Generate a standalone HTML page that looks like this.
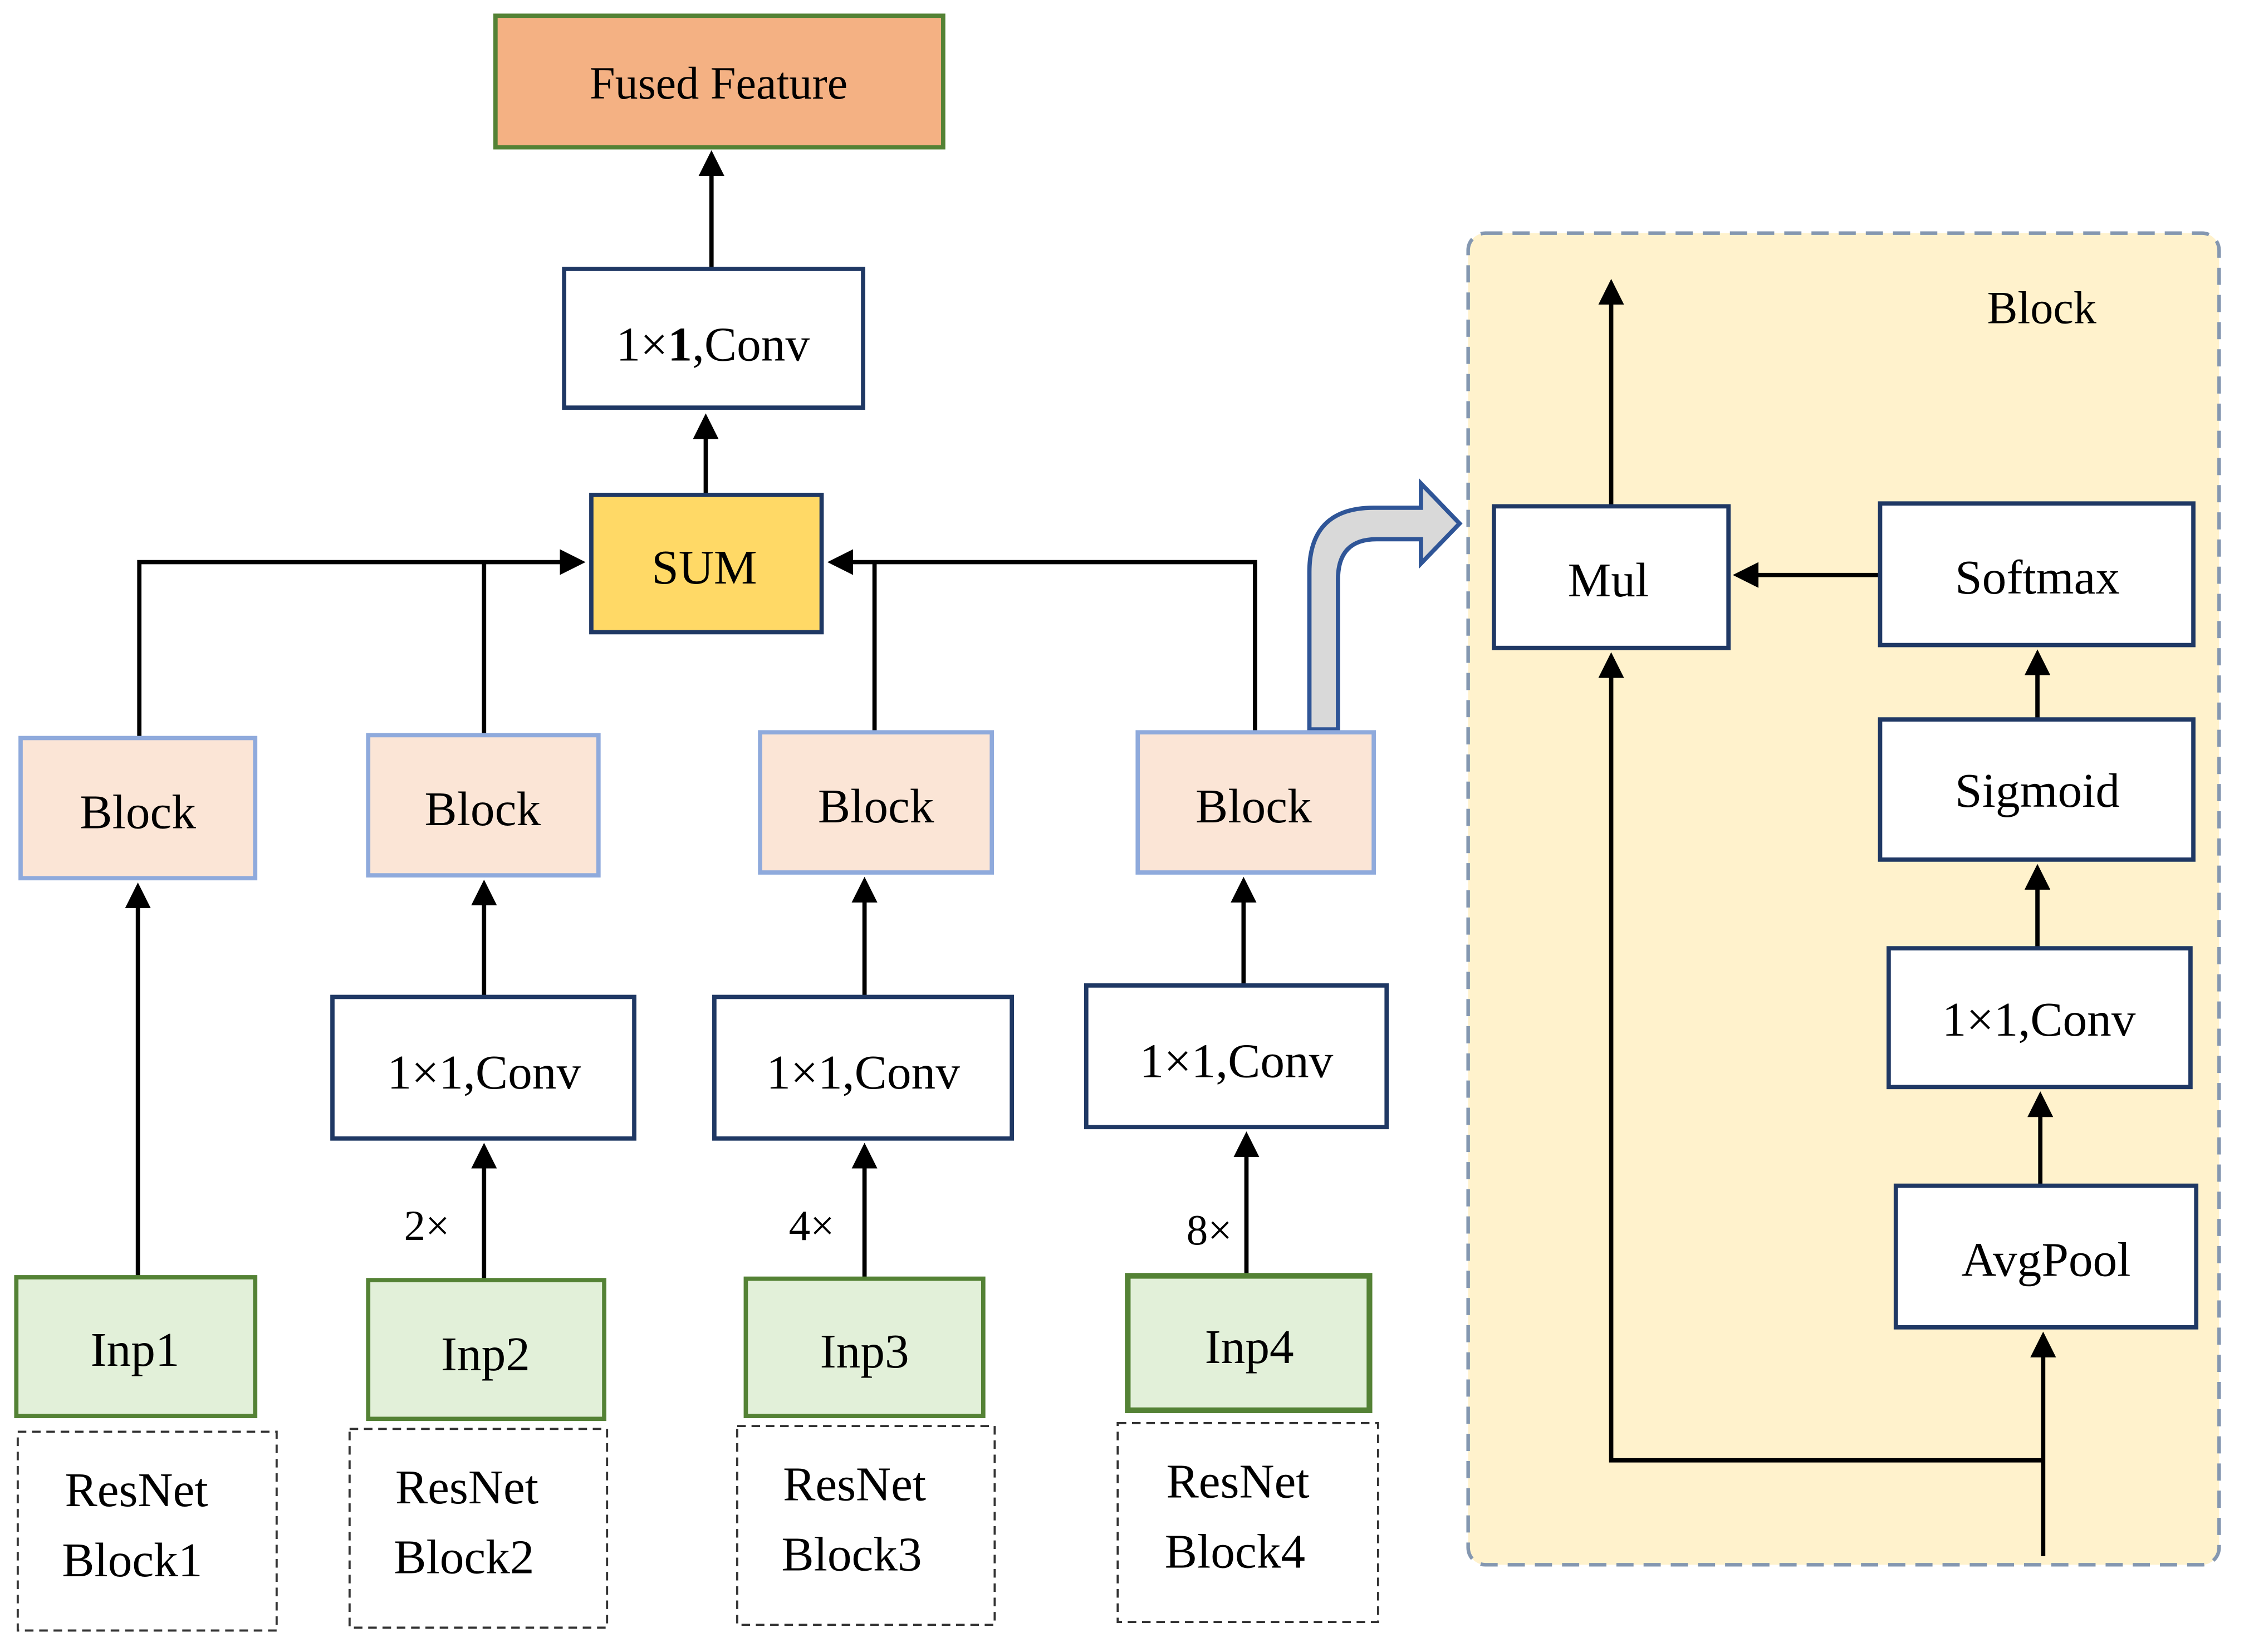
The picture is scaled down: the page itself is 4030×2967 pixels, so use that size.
<!DOCTYPE html>
<html><head><meta charset="utf-8"><style>html,body{margin:0;padding:0;background:#fff}svg{display:block}</style></head>
<body>
<svg width="4030" height="2967" viewBox="0 0 1568 1155" xmlns="http://www.w3.org/2000/svg" font-family="Liberation Serif, serif">
<defs>
<marker id="a" markerWidth="6" markerHeight="6" refX="5" refY="3" orient="auto" markerUnits="strokeWidth"><path d="M0,0 L6,3 L0,6 z" fill="#000"/></marker>
</defs>
<rect width="1568" height="1155" fill="#fff"/>
<!-- block panel -->
<rect x="1026" y="163" width="525" height="931" rx="12" fill="#FFF2CC" stroke="#8497B0" stroke-width="2.5" stroke-dasharray="12,7"/>
<text x="1427" y="226" font-size="32" text-anchor="middle">Block</text>

<g stroke="#000" stroke-width="3" fill="none">
<line x1="497" y1="187" x2="497" y2="108" marker-end="url(#a)"/>
<line x1="493" y1="346" x2="493" y2="292" marker-end="url(#a)"/>
<polyline points="97,515 97,393 406,393" marker-end="url(#a)"/>
<line x1="338" y1="513" x2="338" y2="393"/>
<polyline points="877,511 877,393 581,393" marker-end="url(#a)"/>
<line x1="611" y1="511" x2="611" y2="393"/>
<line x1="96" y1="893" x2="96" y2="620" marker-end="url(#a)"/>
<line x1="338" y1="697" x2="338" y2="618" marker-end="url(#a)"/>
<line x1="338" y1="895" x2="338" y2="802" marker-end="url(#a)"/>
<line x1="604" y1="697" x2="604" y2="616" marker-end="url(#a)"/>
<line x1="604" y1="894" x2="604" y2="802" marker-end="url(#a)"/>
<line x1="869" y1="689" x2="869" y2="616" marker-end="url(#a)"/>
<line x1="871" y1="892" x2="871" y2="794" marker-end="url(#a)"/>
<line x1="1126" y1="354" x2="1126" y2="198" marker-end="url(#a)"/>
<line x1="1314" y1="402" x2="1214" y2="402" marker-end="url(#a)"/>
<line x1="1424" y1="503" x2="1424" y2="457" marker-end="url(#a)"/>
<line x1="1424" y1="663" x2="1424" y2="607" marker-end="url(#a)"/>
<line x1="1426" y1="829" x2="1426" y2="766" marker-end="url(#a)"/>
<line x1="1428" y1="1088" x2="1428" y2="934" marker-end="url(#a)"/>
<polyline points="1428,1021 1126,1021 1126,459" marker-end="url(#a)"/>
</g>

<!-- curved arrow -->
<path d="M915,510 L915,400 Q915,355 960,355 L993,355 L993,338 L1020,366 L993,394 L993,377 L962,377 Q935,377 935,405 L935,510 Z" fill="#D9D9D9" stroke="#2F5597" stroke-width="3"/>

<g font-size="34" text-anchor="middle">
<rect x="346" y="11" width="313" height="92" fill="#F4B183" stroke="#548235" stroke-width="3"/>
<text x="502" y="69" font-size="32">Fused Feature</text>
<rect x="394" y="188" width="209" height="97" fill="#fff" stroke="#1F3864" stroke-width="3"/>
<text x="498" y="252">1×<tspan font-weight="bold">1</tspan>,Conv</text>
<rect x="413" y="346" width="161" height="96" fill="#FFD966" stroke="#1F3864" stroke-width="3"/>
<text x="492" y="408">SUM</text>

<g fill="#FBE5D6" stroke="#8FAADC" stroke-width="3">
<rect x="14" y="516" width="164" height="98"/>
<rect x="257" y="514" width="161" height="98"/>
<rect x="531" y="512" width="162" height="98"/>
<rect x="795" y="512" width="165" height="98"/>
</g>
<text x="96" y="579">Block</text>
<text x="337" y="577">Block</text>
<text x="612" y="575">Block</text>
<text x="876" y="575">Block</text>

<g fill="#fff" stroke="#1F3864" stroke-width="3">
<rect x="232" y="697" width="211" height="99"/>
<rect x="499" y="697" width="208" height="99"/>
<rect x="759" y="689" width="210" height="99"/>
<rect x="1044" y="354" width="164" height="99"/>
<rect x="1314" y="352" width="219" height="99"/>
<rect x="1314" y="503" width="219" height="98"/>
<rect x="1320" y="663" width="211" height="97"/>
<rect x="1325" y="829" width="210" height="99"/>
</g>
<text x="338" y="761">1×1,Conv</text>
<text x="603" y="761">1×1,Conv</text>
<text x="864" y="753">1×1,Conv</text>
<text x="1124" y="417">Mul</text>
<text x="1424" y="415">Softmax</text>
<text x="1424" y="564">Sigmoid</text>
<text x="1425" y="724">1×1,Conv</text>
<text x="1430" y="892">AvgPool</text>

<g fill="#E2F0D9" stroke="#548235" stroke-width="3">
<rect x="11" y="893" width="167" height="97"/>
<rect x="257" y="895" width="165" height="97"/>
<rect x="521" y="894" width="166" height="96"/>
<rect x="788" y="892" width="169" height="94" stroke-width="4"/>
</g>
<text x="94" y="955">Inp1</text>
<text x="339" y="958">Inp2</text>
<text x="604" y="956">Inp3</text>
<text x="873" y="953">Inp4</text>

<g font-size="30">
<text x="298" y="867">2×</text>
<text x="567" y="867">4×</text>
<text x="845" y="870">8×</text>
</g>

<g fill="none" stroke="#333" stroke-width="1.5" stroke-dasharray="6,4">
<rect x="12" y="1001" width="181" height="139"/>
<rect x="244" y="999" width="180" height="139"/>
<rect x="515" y="997" width="180" height="139"/>
<rect x="781" y="995" width="182" height="139"/>
</g>
<text x="95" y="1053">ResNet</text><text x="92" y="1102">Block1</text>
<text x="326" y="1051">ResNet</text><text x="324" y="1100">Block2</text>
<text x="597" y="1049">ResNet</text><text x="595" y="1098">Block3</text>
<text x="865" y="1047">ResNet</text><text x="863" y="1096">Block4</text>
</g>
</svg>
</body></html>
